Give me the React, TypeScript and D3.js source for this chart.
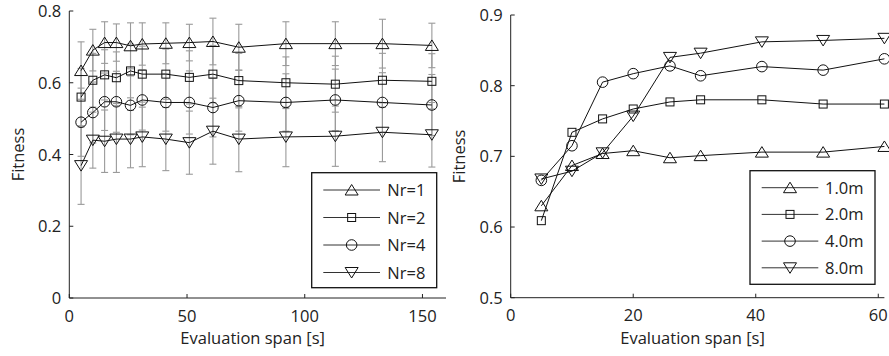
import React from "react";
import * as d3 from "d3";

// ---- Left panel data ----
const leftX = [5, 10, 15, 20, 26, 31, 41, 51, 61, 72, 92, 113, 133, 154];
const nr1 = [0.634, 0.691, 0.712, 0.712, 0.703, 0.708, 0.71, 0.712, 0.715, 0.699, 0.709, 0.709, 0.709, 0.704];
const nr1Err = [0.08, 0.058, 0.058, 0.052, 0.064, 0.059, 0.057, 0.051, 0.065, 0.064, 0.061, 0.061, 0.068, 0.062];
const nr2 = [0.56, 0.607, 0.622, 0.614, 0.633, 0.624, 0.624, 0.615, 0.624, 0.606, 0.6, 0.596, 0.607, 0.604];
const nr2Err = [0.08, 0.075, 0.07, 0.072, 0.075, 0.078, 0.07, 0.074, 0.08, 0.076, 0.072, 0.078, 0.075, 0.077];
const nr4 = [0.49, 0.517, 0.547, 0.547, 0.537, 0.552, 0.545, 0.545, 0.531, 0.55, 0.545, 0.552, 0.545, 0.538];
const nr4Err = [0.095, 0.085, 0.08, 0.085, 0.082, 0.084, 0.08, 0.088, 0.082, 0.085, 0.08, 0.086, 0.083, 0.085];
const nr8 = [0.369, 0.44, 0.437, 0.443, 0.443, 0.449, 0.443, 0.433, 0.465, 0.443, 0.449, 0.451, 0.462, 0.455];
const nr8Err = [0.108, 0.078, 0.087, 0.093, 0.08, 0.083, 0.088, 0.088, 0.092, 0.091, 0.083, 0.084, 0.082, 0.09];
const leftLabels = ["Nr=1", "Nr=2", "Nr=4", "Nr=8"];
const leftYTicks = [0, 0.2, 0.4, 0.6, 0.8];
const leftXTicks = [0, 50, 100, 150];

// ---- Right panel data ----
const rightX = [5, 10, 15, 20, 26, 31, 41, 51, 61];
const m1 = [0.63, 0.687, 0.704, 0.708, 0.698, 0.701, 0.706, 0.706, 0.714];
const m2 = [0.609, 0.734, 0.753, 0.767, 0.777, 0.78, 0.78, 0.774, 0.774];
const m4 = [0.666, 0.715, 0.805, 0.817, 0.828, 0.814, 0.827, 0.822, 0.838];
const m8 = [0.668, 0.679, 0.705, 0.757, 0.84, 0.846, 0.862, 0.864, 0.867];
const rightLabels = ["1.0m", "2.0m", "4.0m", "8.0m"];
const rightYTicks = [0.5, 0.6, 0.7, 0.8, 0.9];
const rightXTicks = [0, 20, 40, 60];

const markerTypes = ["up", "square", "circle", "down"];
const FONT = "'Open Sans', sans-serif";
const TXT = "#222";
const FS = 16.5;

function Marker({ type, x, y }: { type: string; x: number; y: number }) {
  const common = { fill: "none", stroke: "#111", strokeWidth: 1 };
  if (type === "circle") return <circle cx={x} cy={y} r={5.3} {...common} />;
  if (type === "square") return <rect x={x - 4} y={y - 4} width={8} height={8} {...common} />;
  if (type === "up")
    return <path d={`M${x},${y - 5.5}L${x + 6.5},${y + 5}L${x - 6.5},${y + 5}Z`} {...common} />;
  return <path d={`M${x},${y + 5.5}L${x + 6.5},${y - 5}L${x - 6.5},${y - 5}Z`} {...common} />;
}

function Panel({
  xs, series, errs, labels, xDomain, yDomain, xRange, yRange, xTicks, yTicks, yFmt, legend, ylabelX,
}: any) {
  const x = d3.scaleLinear().domain(xDomain).range(xRange);
  const y = d3.scaleLinear().domain(yDomain).range(yRange);
  const line = d3.line<number>().x((_, i) => x(xs[i])).y((v) => y(v));
  const tick = 4;
  return (
    <g>
      {errs &&
        series.map((s: number[], si: number) =>
          s.map((v, i) => {
            const e = errs[si][i];
            const px = x(xs[i]);
            return (
              <g key={`e${si}-${i}`} stroke="#9a9a9a" strokeWidth={1.1}>
                <line x1={px} x2={px} y1={y(v - e)} y2={y(v + e)} />
                <line x1={px - 3.5} x2={px + 3.5} y1={y(v - e)} y2={y(v - e)} />
                <line x1={px - 3.5} x2={px + 3.5} y1={y(v + e)} y2={y(v + e)} />
              </g>
            );
          })
        )}
      {series.map((s: number[], si: number) => (
        <path key={`l${si}`} d={line(s) || ""} fill="none" stroke="#111" strokeWidth={1} />
      ))}
      {series.map((s: number[], si: number) =>
        s.map((v, i) => <Marker key={`m${si}-${i}`} type={markerTypes[si]} x={x(xs[i])} y={y(v)} />)
      )}
      <line x1={xRange[0]} x2={xRange[1]} y1={yRange[0]} y2={yRange[0]} stroke="#222" strokeWidth={1} />
      <line x1={xRange[0]} x2={xRange[0]} y1={yRange[0]} y2={yRange[1]} stroke="#222" strokeWidth={1} />
      {xTicks.map((t: number) => (
        <g key={`xt${t}`}>
          <line x1={x(t)} x2={x(t)} y1={yRange[0]} y2={yRange[0] - tick} stroke="#222" />
          <text x={x(t)} y={yRange[0] + 23.5} textAnchor="middle" fontSize={FS} fontFamily={FONT} fill={TXT}>
            {t}
          </text>
        </g>
      ))}
      {yTicks.map((t: number) => (
        <g key={`yt${t}`}>
          <line x1={xRange[0]} x2={xRange[0] + tick} y1={y(t)} y2={y(t)} stroke="#222" />
          <text x={xRange[0] - 8} y={y(t) + 6} textAnchor="end" fontSize={FS} fontFamily={FONT} fill={TXT}>
            {yFmt(t)}
          </text>
        </g>
      ))}
      <text
        x={(xRange[0] + xRange[1]) / 2 - 5}
        y={yRange[0] + 46}
        textAnchor="middle"
        fontSize={FS}
        fontFamily={FONT}
        fill={TXT}
      >
        Evaluation span [s]
      </text>
      <text
        transform={`translate(${ylabelX},${(yRange[0] + yRange[1]) / 2}) rotate(-90)`}
        textAnchor="middle"
        fontSize={FS}
        fontFamily={FONT}
        fill={TXT}
      >
        Fitness
      </text>
      <rect x={legend.x} y={legend.y} width={legend.w} height={legend.h} fill="#fff" stroke="#111" strokeWidth={1.3} />
      {labels.map((lab: string, i: number) => {
        const ly = legend.y + legend.row0 + i * legend.dy;
        return (
          <g key={`lg${i}`}>
            <line x1={legend.x + legend.l0} x2={legend.x + legend.l1} y1={ly} y2={ly} stroke="#333" strokeWidth={1} />
            <Marker type={markerTypes[i]} x={legend.x + (legend.l0 + legend.l1) / 2} y={ly} />
            <text x={legend.x + legend.tx} y={ly + 6} fontSize={FS} fontFamily={FONT} fill={TXT}>
              {lab}
            </text>
          </g>
        );
      })}
    </g>
  );
}

export default function App() {
  return (
    <svg width={889} height={356} style={{ display: "block", position: "absolute", left: 0, top: 0 }}>
      <rect width={889} height={356} fill="#fff" />
      <Panel
        xs={leftX}
        series={[nr1, nr2, nr4, nr8]}
        errs={[nr1Err, nr2Err, nr4Err, nr8Err]}
        labels={leftLabels}
        xDomain={[0, 160]}
        yDomain={[0, 0.8]}
        xRange={[69.3, 446]}
        yRange={[298, 11]}
        xTicks={leftXTicks}
        yTicks={leftYTicks}
        yFmt={(t: number) => (t === 0 ? "0" : d3.format(".1f")(t))}
        legend={{ x: 311.7, y: 172.7, w: 125, h: 115, row0: 17.3, dy: 27.5, l0: 11.6, l1: 68.3, tx: 75.6 }}
        ylabelX={24}
      />
      <Panel
        xs={rightX}
        series={[m1, m2, m4, m8]}
        errs={null}
        labels={rightLabels}
        xDomain={[0, 61]}
        yDomain={[0.5, 0.9]}
        xRange={[510.7, 884.4]}
        yRange={[297.7, 15]}
        xTicks={rightXTicks}
        yTicks={rightYTicks}
        yFmt={(t: number) => d3.format(".1f")(t)}
        legend={{ x: 750, y: 170.7, w: 125, h: 113.6, row0: 17, dy: 26.7, l0: 11.7, l1: 68.3, tx: 75 }}
        ylabelX={465}
      />
    </svg>
  );
}
